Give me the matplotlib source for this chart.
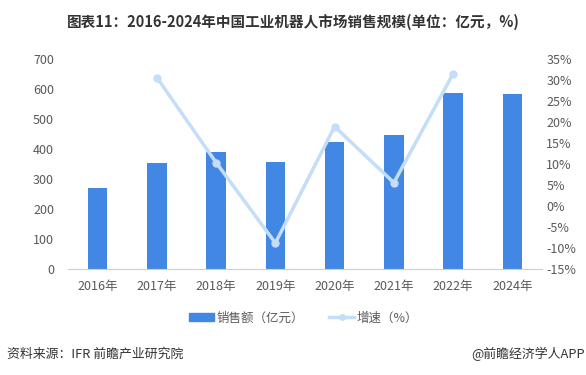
import matplotlib as mtl
mtl.use('Agg')
import matplotlib.pyplot as plt
from matplotlib.lines import Line2D
from matplotlib.patches import Patch
import numpy as np

plt.rcParams['font.family'] = ['Noto Sans CJK SC', 'DejaVu Sans']

### DATA ###
years = ['2016年', '2017年', '2018年', '2019年', '2020年', '2021年', '2022年', '2024年']
sales = [272, 354, 391, 357, 424, 447, 588, 584]
growth = [None, 30.7, 10.4, -8.8, 19.0, 5.6, 31.6, None]

bar_color = '#4287e3'
line_color = '#c4ddf9'
text_gray = '#595959'

fig = plt.figure(figsize=(5.86, 3.75), dpi=100)
ax = fig.add_axes([68/586, 106/375, 474/586, 209.5/375])
x = np.arange(len(years))

ax.bar(x, sales, width=0.33, color=bar_color, zorder=2)
ax.set_xlim(-0.5, len(years) - 0.5)
ax.set_ylim(0, 700)
ax.set_yticks(range(0, 701, 100))
ax.set_xticks(x)
ax.set_xticklabels(years)
for s in ['top', 'right', 'left']:
	ax.spines[s].set_visible(False)
ax.spines['bottom'].set_color('#d0d0d0')
ax.tick_params(axis='both', length=0, labelsize=9, labelcolor=text_gray)
ax.tick_params(axis='x', pad=8)
ax.tick_params(axis='y', pad=10)

ax2 = ax.twinx()
gx = [i for i, g in enumerate(growth) if g is not None]
gy = [g for g in growth if g is not None]
ax2.plot(gx, gy, color=line_color, lw=2.5, marker='o', markersize=5, zorder=3)
ax2.set_ylim(-15, 35)
ax2.set_yticks(range(-15, 36, 5))
ax2.set_yticklabels(['%d%%' % v for v in range(-15, 36, 5)])
for s in ['top', 'right', 'left', 'bottom']:
	ax2.spines[s].set_visible(False)
ax2.tick_params(axis='y', length=0, labelsize=9, labelcolor=text_gray, pad=3)

# title
fig.text(0.5, 1 - 22/375, '图表11：2016-2024年中国工业机器人市场销售规模(单位：亿元，%)',
	ha='center', va='center', fontsize=10.5, fontweight='bold', color='#333333')

# legend
handles = [Patch(color=bar_color), Line2D([0], [0], color=line_color, lw=2.5, marker='o', markersize=4)]
fig.legend(handles, ['销售额（亿元）', '增速（%）'], loc='center', bbox_to_anchor=(304/586, 1 - 318/375),
	ncol=2, frameon=False, fontsize=9, labelcolor=text_gray, handlelength=2.0, handleheight=0.6,
	handletextpad=0.2, columnspacing=2.0)

# source
fig.text(7/586, 1 - 354/375, '资料来源：IFR 前瞻产业研究院', ha='left', va='center', fontsize=9.3, color='#333333')
fig.text(585/586, 1 - 354/375, '@前瞻经济学人APP', ha='right', va='center', fontsize=9.3, color='#333333')

plt.savefig('out.png', dpi=100)
